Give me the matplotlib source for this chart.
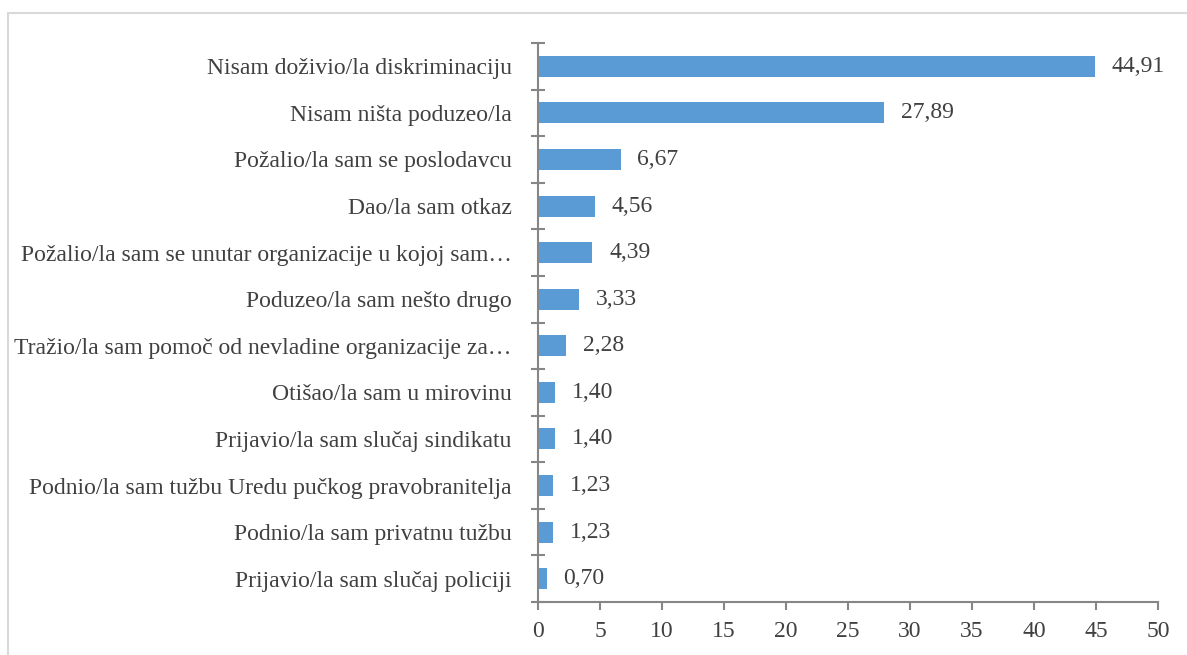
import matplotlib.pyplot as plt
import matplotlib.patches as mpatches

categories = [
    "Nisam doživio/la diskriminaciju",
    "Nisam ništa poduzeo/la",
    "Požalio/la sam se poslodavcu",
    "Dao/la sam otkaz",
    "Požalio/la sam se unutar organizacije u kojoj sam…",
    "Poduzeo/la sam nešto drugo",
    "Tražio/la sam pomoč od nevladine organizacije za…",
    "Otišao/la sam u mirovinu",
    "Prijavio/la sam slučaj sindikatu",
    "Podnio/la sam tužbu Uredu pučkog pravobranitelja",
    "Podnio/la sam privatnu tužbu",
    "Prijavio/la sam slučaj policiji",
]
values = [44.91, 27.89, 6.67, 4.56, 4.39, 3.33, 2.28, 1.40, 1.40, 1.23, 1.23, 0.70]
xticks = list(range(0, 51, 5))

plt.rcParams['font.family'] = ['Liberation Serif', 'DejaVu Serif']
text_color = '#404040'
axis_color = '#868686'
fs = 17

fig = plt.figure(figsize=(11.87, 6.55), dpi=100)
ax = fig.add_axes([538 / 1187, 1 - 602 / 655, 620 / 1187, 559 / 655])

# outer frame
fig.patches.append(mpatches.Rectangle((8 / 1187, -0.05), 1.1, 1 - 13 / 655 + 0.05,
                                      transform=fig.transFigure, fill=False,
                                      edgecolor='#d9d9d9', linewidth=1.5))

n = len(categories)
pos = list(range(n))
ax.barh(pos, values, height=0.45, color='#5B9BD5')
ax.set_ylim(n - 0.5, -0.5)
ax.set_xlim(0, 50)
ax.set_xticks(xticks)
ax.set_xticklabels([str(t) for t in xticks], fontsize=fs, color=text_color)

ax.set_yticks(pos)
ax.set_yticklabels(categories, fontsize=fs, color=text_color)
ax.set_yticks([p - 0.5 for p in range(n + 1)], minor=True)
ax.tick_params(axis='y', which='major', length=0, pad=19)
ax.tick_params(axis='y', which='minor', direction='inout', length=10, color=axis_color, width=1.5)
ax.tick_params(axis='x', direction='out', length=6, color=axis_color, width=1.5, pad=8)

for s in ['top', 'right']:
    ax.spines[s].set_visible(False)
for s in ['left', 'bottom']:
    ax.spines[s].set_color(axis_color)
    ax.spines[s].set_linewidth(1.5)

for p, v in zip(pos, values):
    ax.annotate(f"{v:.2f}".replace('.', ','), (v, p), xytext=(12, 0),
                textcoords='offset points', va='center', ha='left',
                fontsize=fs, color=text_color)

fig.savefig("out.png", dpi=100)
